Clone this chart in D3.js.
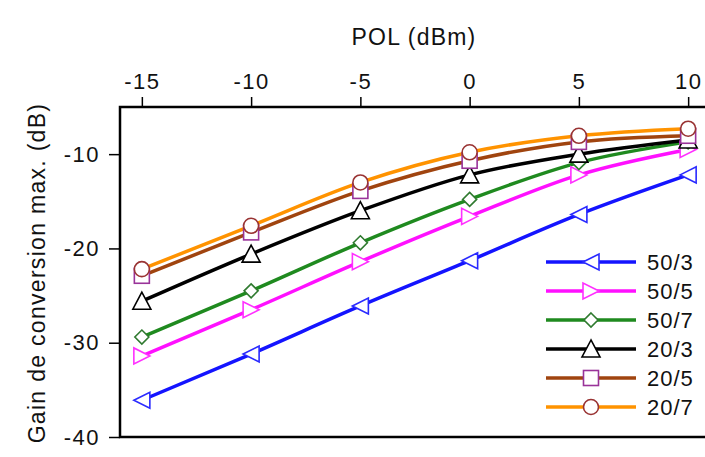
<!DOCTYPE html>
<html>
<head>
<meta charset="utf-8">
<script src="https://cdn.jsdelivr.net/npm/d3@7"></script>
<style>
  body { margin: 0; background: #fff; }
</style>
</head>
<body>
<div id="container"></div>
<script>
const pol = [-15, -10, -5, 0, 5, 10];
const xTicks = [-15, -10, -5, 0, 5, 10];
const yTicks = [-10, -20, -30, -40];

const g50_3 = [-36.1, -31.2, -26.1, -21.3, -16.4, -12.2];
const g50_5 = [-31.4, -26.5, -21.4, -16.6, -12.2, -9.5];
const g50_7 = [-29.4, -24.5, -19.4, -14.8, -10.9, -8.7];
const g20_3 = [-25.6, -20.6, -16.0, -12.2, -10.0, -8.5];
const g20_5 = [-22.9, -18.3, -13.9, -10.7, -8.7, -8.05];
const g20_7 = [-22.2, -17.6, -13.0, -9.8, -8.05, -7.3];

const seriesNames = ["50/3", "50/5", "50/7", "20/3", "20/5", "20/7"];
const seriesValues = [g50_3, g50_5, g50_7, g20_3, g20_5, g20_7];
const lineColors = ["#1414ff", "#ff10ff", "#1f8a1f", "#000000", "#a0440f", "#ff9300"];
const markColors = ["#2a2aff", "#ff30ff", "#2f7a2f", "#000000", "#993399", "#993333"];
const markers = ["left", "right", "diamond", "up", "square", "circle"];

const chart = () => {
  const width = 705, height = 457;
  const left = 120, right = 710, top = 107, bottom = 437;

  const x = d3.scaleLinear().domain([-16, 11]).range([left, right]);
  const y = d3.scaleLinear().domain([-40, -5]).range([bottom, top]);

  const svg = d3.create("svg")
    .attr("width", width)
    .attr("height", height)
    .style("font-family", "Liberation Sans, Arial, sans-serif");

  svg.append("rect").attr("width", width).attr("height", height).attr("fill", "#fff");

  // axes
  svg.append("g")
    .attr("transform", `translate(0,${top})`)
    .call(d3.axisTop(x).tickValues(xTicks).tickSize(10).tickPadding(8))
    .call(g => g.select(".domain").remove())
    .call(g => g.selectAll("line").attr("stroke", "#000").attr("stroke-width", 1.5))
    .call(g => g.selectAll("text").attr("font-size", 22).attr("letter-spacing", 1.5)
      .attr("fill", "#111").text(d => d < 0 ? "-" + Math.abs(d) : d));

  svg.append("g")
    .attr("transform", `translate(${left},0)`)
    .call(d3.axisLeft(y).tickValues(yTicks).tickSize(11).tickPadding(9))
    .call(g => g.select(".domain").remove())
    .call(g => g.selectAll("line").attr("stroke", "#000").attr("stroke-width", 1.5))
    .call(g => g.selectAll("text").attr("font-size", 22).attr("letter-spacing", 1.5)
      .attr("fill", "#111").text(d => "-" + Math.abs(d)));

  svg.append("rect")
    .attr("x", left).attr("y", top)
    .attr("width", right - left).attr("height", bottom - top)
    .attr("fill", "none").attr("stroke", "#000").attr("stroke-width", 2.5);

  svg.append("text")
    .attr("x", 414).attr("y", 45)
    .attr("text-anchor", "middle").attr("font-size", 23).attr("letter-spacing", 1.2)
    .attr("fill", "#111")
    .text("POL (dBm)");

  svg.append("text")
    .attr("transform", `translate(45,273) rotate(-90)`)
    .attr("text-anchor", "middle").attr("font-size", 23).attr("letter-spacing", 1.3)
    .attr("fill", "#111")
    .text("Gain de conversion max. (dB)");

  const line = d3.line()
    .x(d => x(d[0]))
    .y(d => y(d[1]))
    .curve(d3.curveMonotoneX);

  const sym = (g, type, color, cx, cy) => {
    const s = 8;
    let el;
    if (type === "circle") {
      el = g.append("circle").attr("cx", cx).attr("cy", cy).attr("r", 7.5);
    } else if (type === "square") {
      el = g.append("rect").attr("x", cx - 7.5).attr("y", cy - 7.5).attr("width", 15).attr("height", 15);
    } else {
      let pts;
      if (type === "left") pts = [[cx - s, cy], [cx + s, cy - s], [cx + s, cy + s]];
      if (type === "right") pts = [[cx + s, cy], [cx - s, cy - s], [cx - s, cy + s]];
      if (type === "up") pts = [[cx, cy - s - 1], [cx - s - 1, cy + s], [cx + s + 1, cy + s]];
      if (type === "diamond") pts = [[cx, cy - 7], [cx + 7, cy], [cx, cy + 7], [cx - 7, cy]];
      el = g.append("polygon").attr("points", pts.map(p => p.join(",")).join(" "));
    }
    el.attr("fill", "#fff").attr("stroke", color).attr("stroke-width", 1.6);
  };

  const plot = svg.append("g");
  seriesValues.forEach((vals, i) => {
    const pts = pol.map((p, j) => [p, vals[j]]);
    plot.append("path")
      .datum(pts)
      .attr("d", line)
      .attr("fill", "none")
      .attr("stroke", lineColors[i])
      .attr("stroke-width", 3.5);
  });
  seriesValues.forEach((vals, i) => {
    const mg = plot.append("g");
    pol.forEach((p, j) => sym(mg, markers[i], markColors[i], x(p), y(vals[j])));
  });

  // legend
  const lg = svg.append("g");
  seriesNames.forEach((name, i) => {
    const ly = 262 + i * 29;
    lg.append("line")
      .attr("x1", 546).attr("x2", 636).attr("y1", ly).attr("y2", ly)
      .attr("stroke", lineColors[i]).attr("stroke-width", 3.5);
    sym(lg, markers[i], markColors[i], 591, ly);
    lg.append("text")
      .attr("x", 647).attr("y", ly + 8)
      .attr("font-size", 22).attr("letter-spacing", 1)
      .attr("fill", "#111")
      .text(name);
  });

  return svg.node();
};

const container = document.getElementById("container");
container.innerHTML = '';
container.appendChild(chart());
</script>
</body>
</html>
